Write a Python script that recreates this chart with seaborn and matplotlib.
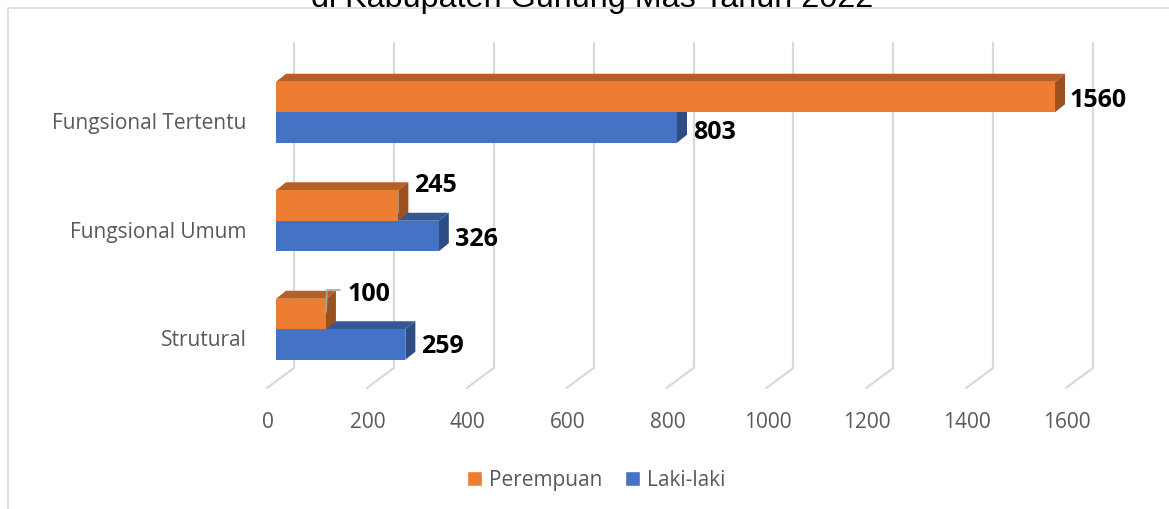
import matplotlib
matplotlib.use("Agg")
import matplotlib.pyplot as plt
import pandas as pd
import seaborn as sns
from matplotlib.lines import Line2D
from matplotlib.patches import Polygon
from matplotlib.transforms import Affine2D, blended_transform_factory

categories = ["Fungsional Tertentu", "Fungsional Umum", "Strutural"]
perempuan = [1560, 245, 100]
laki_laki = [803, 326, 259]
x_ticks = [0, 200, 400, 600, 800, 1000, 1200, 1400, 1600]

# label nudges in pixels (up is positive), from the bar end
label_dx = {"Perempuan": [14, 16, 22], "Laki-laki": [16, 16, 16]}
label_dy = {"Perempuan": [-2, 21, 21], "Laki-laki": [-4, -3, -1]}

W, H = 1169, 510
GREY = "#595959"
GRID = "#D9D9D9"
DEPTH_X, DEPTH_Y = 10, 8
faces = {"Perempuan": ("#ED7D31", "#B66025", "#9C5220"),
         "Laki-laki": ("#4472C4", "#345796", "#2C4C83")}

sns.set_theme(style="white")
plt.rcParams["font.family"] = ["Open Sans", "DejaVu Sans"]

df = pd.DataFrame({
    "kategori": categories * 2,
    "jumlah": perempuan + laki_laki,
    "jenis": ["Perempuan"] * 3 + ["Laki-laki"] * 3,
})

fig = plt.figure(figsize=(W / 100, H / 100), dpi=100)
left, right, top, bottom = 276, 1075, 59, 384.5
ax = fig.add_axes([left / W, 1 - bottom / H, (right - left) / W, (bottom - top) / H])
ax.patch.set_alpha(0)

palette = {k: v[0] for k, v in faces.items()}
sns.barplot(data=df, y="kategori", x="jumlah", hue="jenis", order=categories,
            hue_order=["Perempuan", "Laki-laki"], palette=palette, orient="h",
            width=0.562, saturation=1, linewidth=0, ax=ax, zorder=3, legend=False)
ax.set_xlim(0, 1600)
ax.set_ylim(2.5, -0.5)
ax.set_xlabel("")
ax.set_ylabel("")
sns.despine(ax=ax, left=True, bottom=True)

# y given in image pixels (from top), x from the data axis
px_y = Affine2D().scale(1, -1).translate(0, H)
wall = blended_transform_factory(ax.transData + Affine2D().translate(18, 0), px_y)

for t in x_ticks:
    ax.add_line(Line2D([t, t], [44, 369], transform=wall, color=GRID, lw=1.6,
                       clip_on=False, zorder=1))
    # floor part, slanted towards the front
    x0 = ax.transData.transform((t, 0))[0]
    ax.add_line(Line2D([x0 + 18, x0 - 9], [H - 369, H - 389], transform=None, color=GRID,
                       lw=1.6, clip_on=False, zorder=1))

# 3D faces of every bar
series = ["Perempuan", "Laki-laki"]
for container, name in zip(ax.containers, series):
    front, top_c, side_c = faces[name]
    z = 2.5 if name == "Perempuan" else 2
    for bar in container:
        (x0, y0), (x1, y1) = ax.transData.transform(bar.get_bbox().get_points())
        ylo, yhi = min(y0, y1), max(y0, y1)
        top_face = [(x0, yhi), (x1, yhi), (x1 + DEPTH_X, yhi + DEPTH_Y), (x0 + DEPTH_X, yhi + DEPTH_Y)]
        side_face = [(x1, ylo), (x1 + DEPTH_X, ylo + DEPTH_Y), (x1 + DEPTH_X, yhi + DEPTH_Y), (x1, yhi)]
        ax.add_patch(Polygon(top_face, transform=None, fc=top_c, ec="none", clip_on=False, zorder=z))
        ax.add_patch(Polygon(side_face, transform=None, fc=side_c, ec="none", clip_on=False, zorder=z))

    values = perempuan if name == "Perempuan" else laki_laki
    for bar, val, dx, dy in zip(container, values, label_dx[name], label_dy[name]):
        ax.annotate(str(val), xy=(val, bar.get_y() + bar.get_height() / 2),
                    xytext=(dx, dy), textcoords="offset pixels", ha="left", va="center",
                    fontsize=18, fontweight="bold", color="black", zorder=5,
                    annotation_clip=False)

# small leader line of the 100 label
lx = ax.transData.transform((perempuan[2], 0))[0]
ax.add_line(Line2D([lx, lx + 1, lx + 14], [H - 313, H - 291, H - 291], transform=None,
                   color="#A6A6A6", lw=1.2, clip_on=False, zorder=4))

ax.set_xticks(x_ticks)
ax.tick_params(axis="x", length=0, pad=20, labelsize=15, labelcolor=GREY)
ax.tick_params(axis="y", length=0, pad=21, labelsize=15, labelcolor=GREY)
for lab in ax.get_xticklabels():
    lab.set_transform(lab.get_transform() + Affine2D().translate(-8, 0))
for lab in ax.get_yticklabels():
    lab.set_transform(lab.get_transform() + Affine2D().translate(0, -8))

# legend
handles = [plt.Rectangle((0, 0), 1, 1, fc=faces[n][0]) for n in series]
fig.legend(handles, series, loc="center", bbox_to_anchor=(596 / W, 1 - 481 / H), ncol=2,
           frameon=False, fontsize=15, labelcolor=GREY, handlelength=0.72, handleheight=0.72,
           handletextpad=0.33, columnspacing=1.09)

# chart frame, only top and left edges show
fig.add_artist(Line2D([7.5 / W, 7.5 / W, 1], [0, 1 - 8.5 / H, 1 - 8.5 / H], color=GRID, lw=1.2))

fig.text(592 / W, 1 - 7 / H, "di Kabupaten Gunung Mas Tahun 2022", ha="center", va="baseline",
         fontsize=23.3, family="Liberation Sans", color="black")

fig.savefig("out.png", dpi=100)
